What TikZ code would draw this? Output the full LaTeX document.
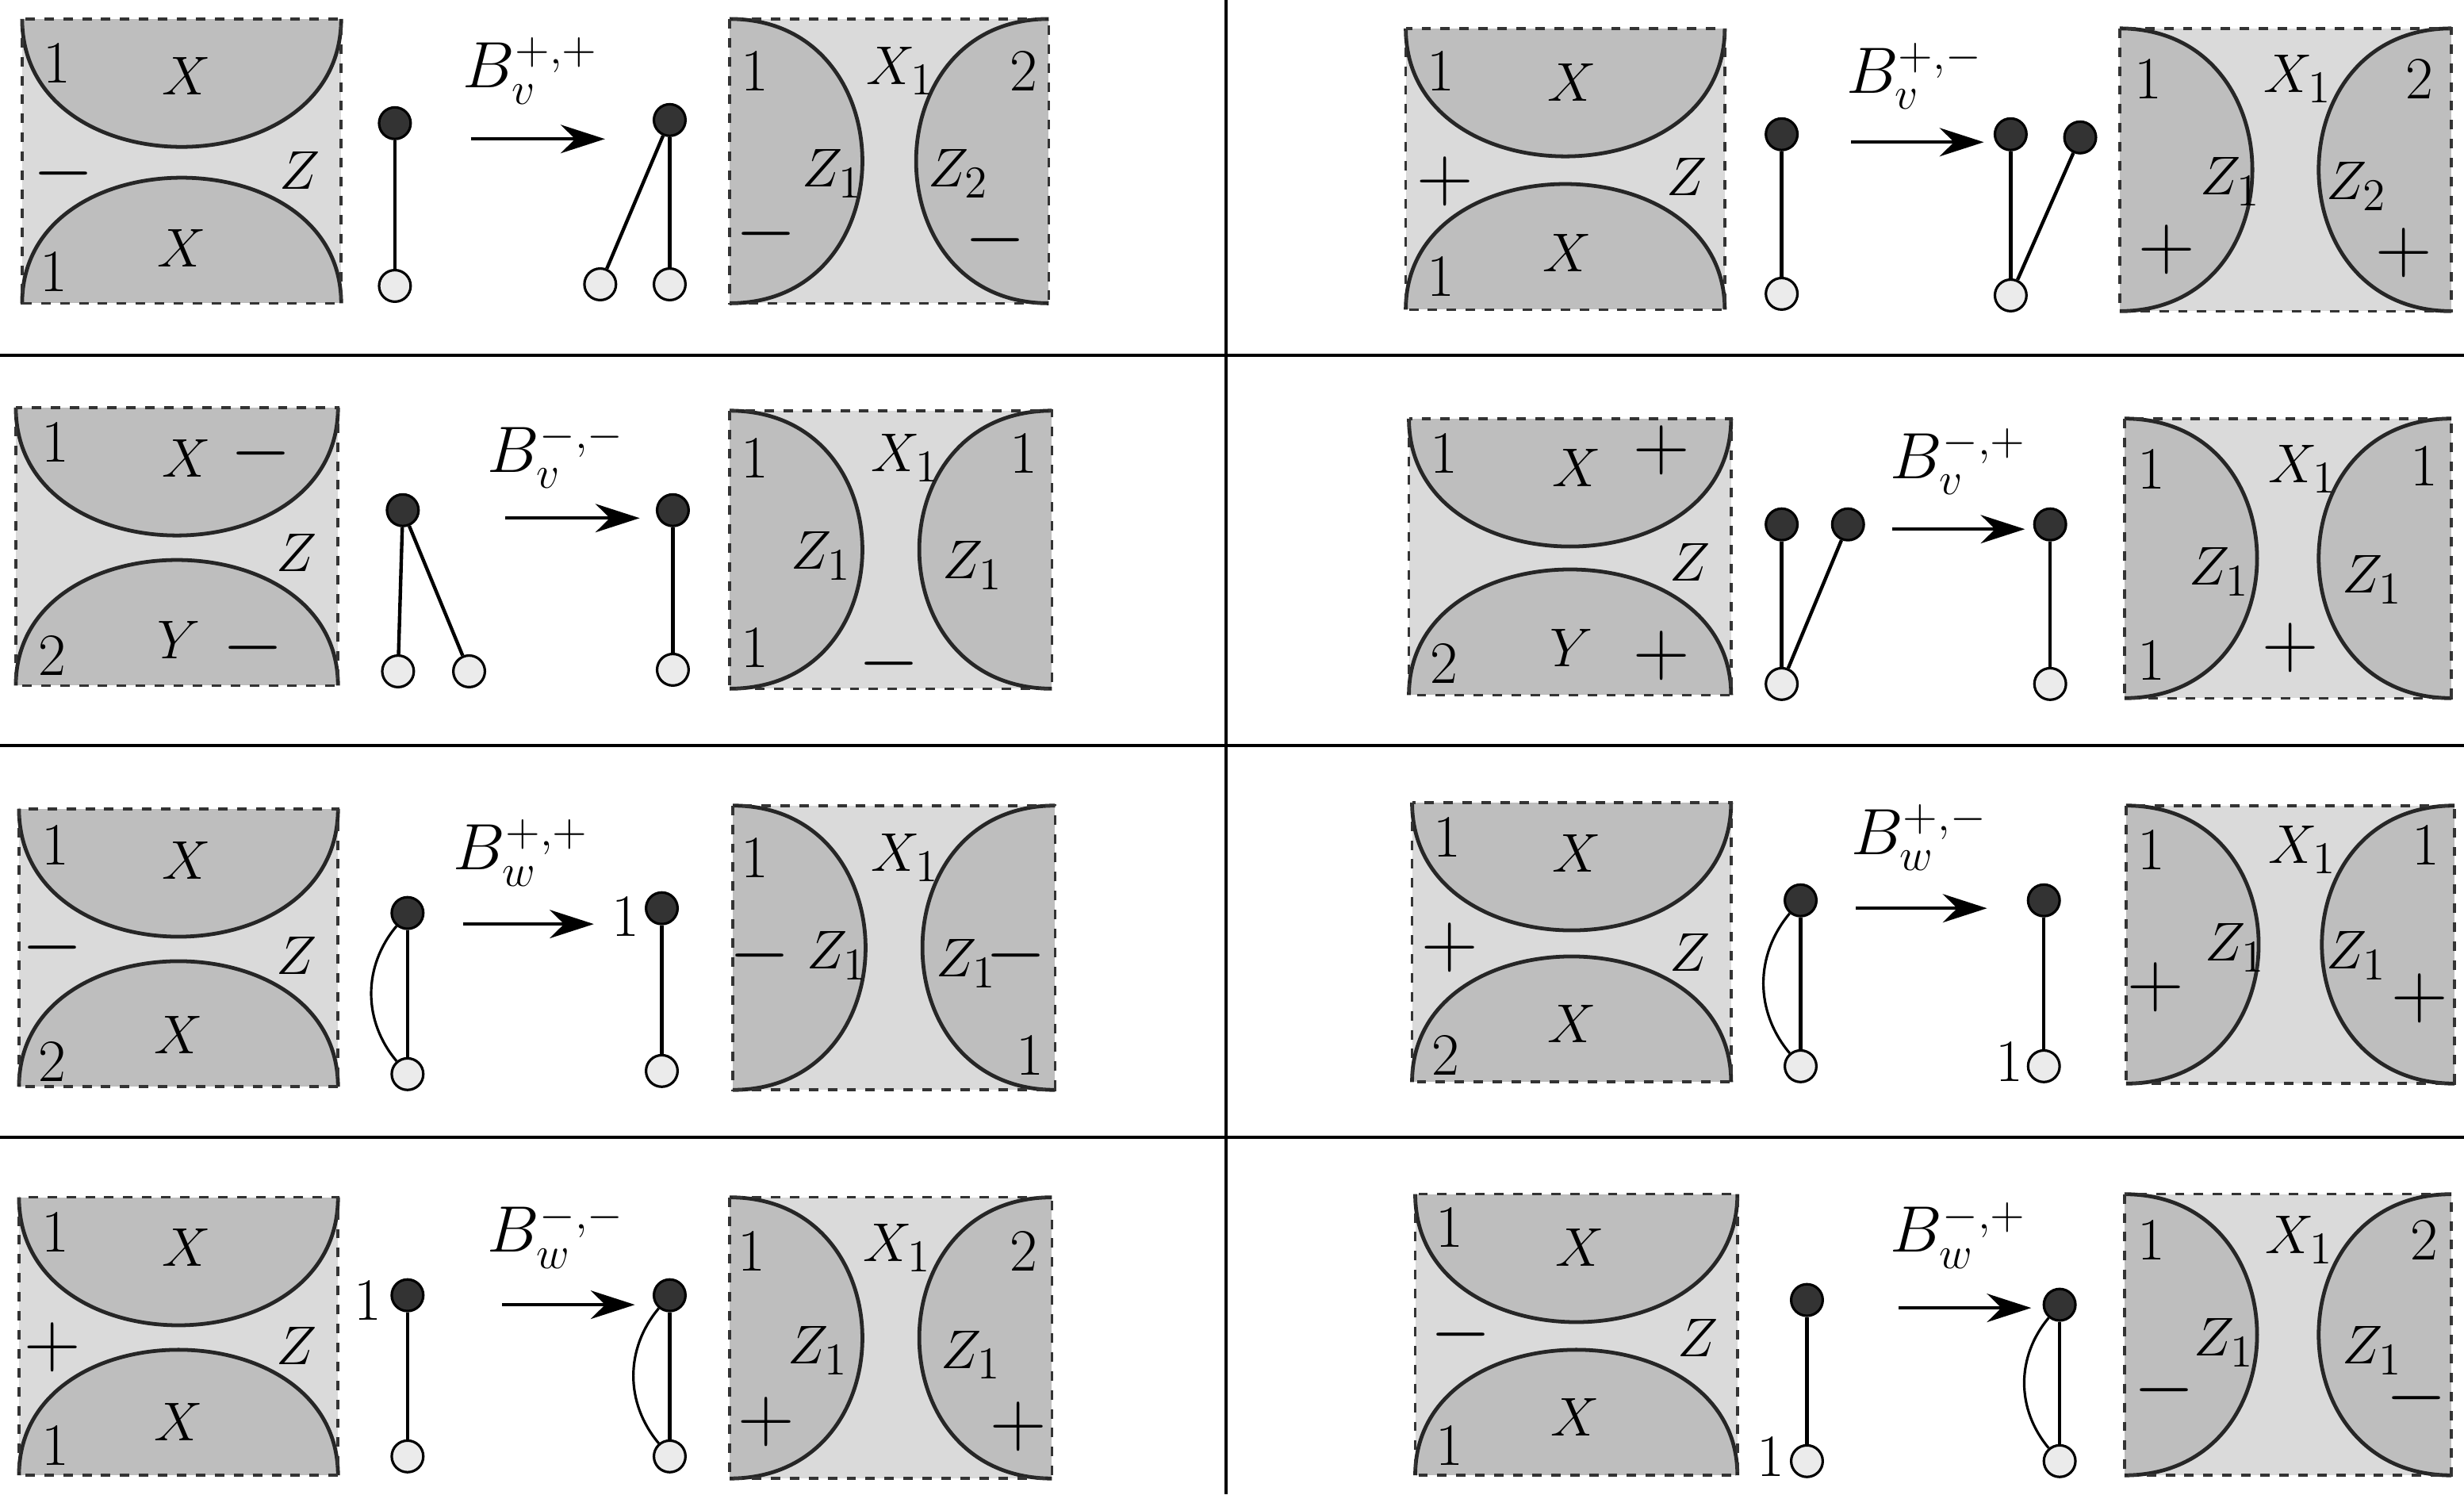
\documentclass[tikz,border=0pt]{standalone}
\usetikzlibrary{arrows.meta}
\definecolor{lightg}{HTML}{DADADA}
\definecolor{darkg}{HTML}{BEBEBE}
\newcommand\boxA[4]{%
 \fill[lightg] (#1,#2) rectangle (#3,#4);
 \filldraw[fill=darkg,draw=black!85,line width=1.2pt] (#1,#2) .. controls (#1,#2+108) and (#3,#2+108) .. (#3,#2);
 \filldraw[fill=darkg,draw=black!85,line width=1.2pt] (#1,#4) .. controls (#1,#4-106) and (#3,#4-106) .. (#3,#4);
 \draw[dashed,line width=0.9pt,black!80] (#1,#2) rectangle (#3,#4);}
\newcommand\boxB[4]{%
 \fill[lightg] (#1,#2) rectangle (#3,#4);
 \filldraw[fill=darkg,draw=black!85,line width=1.2pt] (#1,#2) .. controls (#1+112,#2) and (#1+112,#4) .. (#1,#4);
 \filldraw[fill=darkg,draw=black!85,line width=1.2pt] (#3,#2) .. controls (#3-112,#2) and (#3-112,#4) .. (#3,#4);
 \draw[dashed,line width=0.9pt,black!80] (#1,#2) rectangle (#3,#4);}
\tikzset{
 bv/.style={circle,draw=black,fill=black!80,line width=0.8pt,minimum size=10pt,inner sep=0pt},
 wv/.style={circle,draw=black,fill=black!8,line width=0.8pt,minimum size=10pt,inner sep=0pt},
 ed/.style={line width=1.1pt},
 arr/.style={line width=1.1pt,-{Stealth[length=14pt,width=9pt]}},
 lb/.style={inner sep=0pt,font=\fontsize{19}{22}\selectfont},
 sg/.style={inner sep=0pt,font=\fontsize{26}{28}\selectfont},
 bl/.style={inner sep=0pt,font=\fontsize{22}{26}\selectfont},
 sep/.style={line width=1pt}
}
\begin{document}
\begin{tikzpicture}[x=0.5pt,y=-0.5pt]
\useasboundingbox (0,0) rectangle (1560,946);
\draw[sep] (0,225) -- (1560,225); \draw[sep] (0,472) -- (1560,472); \draw[sep] (0,720) -- (1560,720);
\draw[sep] (776,0) -- (776,946);
% Row 1 left
\boxA{14}{12}{216}{192}
\node[lb] at (36,40) {1}; \node[lb] at (118,48) {$X$}; \node[sg] at (40,110) {$-$}; \node[lb] at (190,108) {$Z$}; \node[lb] at (115,157) {$X$}; \node[lb] at (34,172) {1};
\node[bv] (a1) at (250,78) {}; \node[wv] (a2) at (250,181) {}; \draw[ed] (a1) -- (a2);
\coordinate (p1) at (298,88); \coordinate (q1) at (383,88); \draw[arr] (p1) -- (q1);
\node[bl] at (336,45) {$B_v^{+,+}$};
\node[bv] (a3) at (424,76) {}; \node[wv] (a4) at (380,180) {}; \node[wv] (a5) at (424,180) {};
\draw[ed] (a3) -- (a4); \draw[ed] (a3) -- (a5);
\boxB{462}{12}{664}{192}
\node[lb] at (478,45) {1}; \node[lb] at (570,45) {$X_1$}; \node[lb] at (648,45) {2}; \node[lb] at (527,110) {$Z_1$}; \node[lb] at (607,110) {$Z_2$}; \node[sg] at (485,148) {$-$}; \node[sg] at (630,152) {$-$};
% Row 1 right
\boxA{890}{18}{1092}{196}
\node[lb] at (912,45) {1}; \node[lb] at (995,52) {$X$}; \node[sg] at (915,115) {$+$}; \node[lb] at (1068,112) {$Z$}; \node[lb] at (992,160) {$X$}; \node[lb] at (912,175) {1};
\node[bv] (b1) at (1128,85) {}; \node[wv] (b2) at (1128,186) {}; \draw[ed] (b1) -- (b2);
\coordinate (p2) at (1172,90); \coordinate (q2) at (1256,90); \draw[arr] (p2) -- (q2);
\node[bl] at (1212,48) {$B_v^{+,-}$};
\node[bv] (b3) at (1273,85) {}; \node[bv] (b4) at (1317,87) {}; \node[wv] (b5) at (1273,187) {};
\draw[ed] (b3) -- (b5); \draw[ed] (b4) -- (b5);
\boxB{1342}{18}{1552}{197}
\node[lb] at (1360,50) {1}; \node[lb] at (1455,50) {$X_1$}; \node[lb] at (1532,50) {2}; \node[lb] at (1412,115) {$Z_1$}; \node[lb] at (1492,118) {$Z_2$}; \node[sg] at (1372,158) {$+$}; \node[sg] at (1522,160) {$+$};
% Row 2 left
\boxA{10}{258}{214}{434}
\node[lb] at (35,280) {1}; \node[lb] at (118,290) {$X$}; \node[sg] at (165,287) {$-$}; \node[lb] at (188,350) {$Z$}; \node[lb] at (113,405) {$Y$}; \node[sg] at (160,410) {$-$}; \node[lb] at (33,415) {2};
\node[bv] (c1) at (255,323) {}; \node[wv] (c2) at (252,425) {}; \node[wv] (c3) at (297,425) {};
\draw[ed] (c1) -- (c2); \draw[ed] (c1) -- (c3);
\coordinate (p3) at (320,328); \coordinate (q3) at (405,328); \draw[arr] (p3) -- (q3);
\node[bl] at (352,288) {$B_v^{-,-}$};
\node[bv] (c4) at (426,323) {}; \node[wv] (c5) at (426,424) {}; \draw[ed] (c4) -- (c5);
\boxB{462}{260}{666}{436}
\node[lb] at (478,290) {1}; \node[lb] at (573,290) {$X_1$}; \node[lb] at (648,287) {1}; \node[lb] at (520,352) {$Z_1$}; \node[lb] at (616,358) {$Z_1$}; \node[lb] at (478,410) {1}; \node[sg] at (563,420) {$-$};
% Row 2 right
\boxA{892}{265}{1096}{440}
\node[lb] at (914,287) {1}; \node[lb] at (998,296) {$X$}; \node[sg] at (1052,285) {$+$}; \node[lb] at (1070,356) {$Z$}; \node[lb] at (995,410) {$Y$}; \node[sg] at (1052,415) {$+$}; \node[lb] at (914,420) {2};
\node[bv] (d1) at (1128,332) {}; \node[bv] (d2) at (1170,332) {}; \node[wv] (d3) at (1128,433) {};
\draw[ed] (d1) -- (d3); \draw[ed] (d2) -- (d3);
\coordinate (p4) at (1198,335); \coordinate (q4) at (1282,335); \draw[arr] (p4) -- (q4);
\node[bl] at (1240,292) {$B_v^{-,+}$};
\node[bv] (d4) at (1298,332) {}; \node[wv] (d5) at (1298,433) {}; \draw[ed] (d4) -- (d5);
\boxB{1345}{265}{1552}{442}
\node[lb] at (1362,297) {1}; \node[lb] at (1458,297) {$X_1$}; \node[lb] at (1535,295) {1}; \node[lb] at (1405,362) {$Z_1$}; \node[lb] at (1502,367) {$Z_1$}; \node[lb] at (1362,418) {1}; \node[sg] at (1450,410) {$+$};
% Row 3 left
\boxA{12}{512}{214}{688}
\node[lb] at (35,535) {1}; \node[lb] at (118,545) {$X$}; \node[sg] at (33,600) {$-$}; \node[lb] at (188,605) {$Z$}; \node[lb] at (113,655) {$X$}; \node[lb] at (33,672) {2};
\node[bv] (e1) at (258,578) {}; \node[wv] (e2) at (258,680) {}; \draw[ed] (e1) -- (e2);
\draw[line width=0.8pt] (e1) to[bend right=40] (e2);
\coordinate (p5) at (293,585); \coordinate (q5) at (376,585); \draw[arr] (p5) -- (q5);
\node[bl] at (330,540) {$B_w^{+,+}$};
\node[lb] at (396,580) {1};
\node[bv] (e3) at (419,575) {}; \node[wv] (e4) at (419,678) {}; \draw[ed] (e3) -- (e4);
\boxB{464}{510}{668}{690}
\node[lb] at (478,543) {1}; \node[lb] at (573,543) {$X_1$}; \node[sg] at (481,605) {$-$}; \node[lb] at (530,605) {$Z_1$}; \node[lb] at (612,610) {$Z_1$}; \node[sg] at (643,605) {$-$}; \node[lb] at (652,668) {1};
% Row 3 right
\boxA{894}{508}{1096}{685}
\node[lb] at (916,530) {1}; \node[lb] at (998,540) {$X$}; \node[sg] at (918,600) {$+$}; \node[lb] at (1070,603) {$Z$}; \node[lb] at (995,648) {$X$}; \node[lb] at (915,668) {2};
\node[bv] (f1) at (1140,570) {}; \node[wv] (f2) at (1140,675) {}; \draw[ed] (f1) -- (f2);
\draw[line width=0.8pt] (f1) to[bend right=40] (f2);
\coordinate (p6) at (1175,575); \coordinate (q6) at (1258,575); \draw[arr] (p6) -- (q6);
\node[bl] at (1215,530) {$B_w^{+,-}$};
\node[bv] (f3) at (1294,570) {}; \node[wv] (f4) at (1294,675) {}; \draw[ed] (f3) -- (f4);
\node[lb] at (1272,672) {1};
\boxB{1346}{510}{1554}{686}
\node[lb] at (1362,538) {1}; \node[lb] at (1458,538) {$X_1$}; \node[lb] at (1536,535) {1}; \node[lb] at (1415,600) {$Z_1$}; \node[lb] at (1492,605) {$Z_1$}; \node[sg] at (1365,625) {$+$}; \node[sg] at (1532,632) {$+$};
% Row 4 left
\boxA{12}{758}{214}{934}
\node[lb] at (35,780) {1}; \node[lb] at (118,790) {$X$}; \node[sg] at (33,853) {$+$}; \node[lb] at (188,852) {$Z$}; \node[lb] at (113,900) {$X$}; \node[lb] at (35,915) {1};
\node[lb] at (233,823) {1};
\node[bv] (g1) at (258,820) {}; \node[wv] (g2) at (258,922) {}; \draw[ed] (g1) -- (g2);
\coordinate (p7) at (318,826); \coordinate (q7) at (402,826); \draw[arr] (p7) -- (q7);
\node[bl] at (352,782) {$B_w^{-,-}$};
\node[bv] (g3) at (424,820) {}; \node[wv] (g4) at (424,922) {}; \draw[ed] (g3) -- (g4);
\draw[line width=0.8pt] (g3) to[bend right=40] (g4);
\boxB{462}{758}{666}{936}
\node[lb] at (476,792) {1}; \node[lb] at (568,790) {$X_1$}; \node[lb] at (648,792) {2}; \node[lb] at (518,855) {$Z_1$}; \node[lb] at (615,858) {$Z_1$}; \node[sg] at (485,900) {$+$}; \node[sg] at (645,903) {$+$};
% Row 4 right
\boxA{896}{756}{1100}{934}
\node[lb] at (918,777) {1}; \node[lb] at (1000,790) {$X$}; \node[sg] at (925,845) {$-$}; \node[lb] at (1075,847) {$Z$}; \node[lb] at (997,897) {$X$}; \node[lb] at (918,915) {1};
\node[bv] (h1) at (1144,823) {}; \node[wv] (h2) at (1144,925) {}; \draw[ed] (h1) -- (h2);
\node[lb] at (1121,922) {1};
\coordinate (p8) at (1202,828); \coordinate (q8) at (1286,828); \draw[arr] (p8) -- (q8);
\node[bl] at (1240,782) {$B_w^{-,+}$};
\node[bv] (h3) at (1304,826) {}; \node[wv] (h4) at (1304,925) {}; \draw[ed] (h3) -- (h4);
\draw[line width=0.8pt] (h3) to[bend right=40] (h4);
\boxB{1345}{756}{1552}{934}
\node[lb] at (1362,785) {1}; \node[lb] at (1456,785) {$X_1$}; \node[lb] at (1535,785) {2}; \node[lb] at (1408,850) {$Z_1$}; \node[lb] at (1502,855) {$Z_1$}; \node[sg] at (1370,880) {$-$}; \node[sg] at (1530,885) {$-$};
\end{tikzpicture}
\end{document}
